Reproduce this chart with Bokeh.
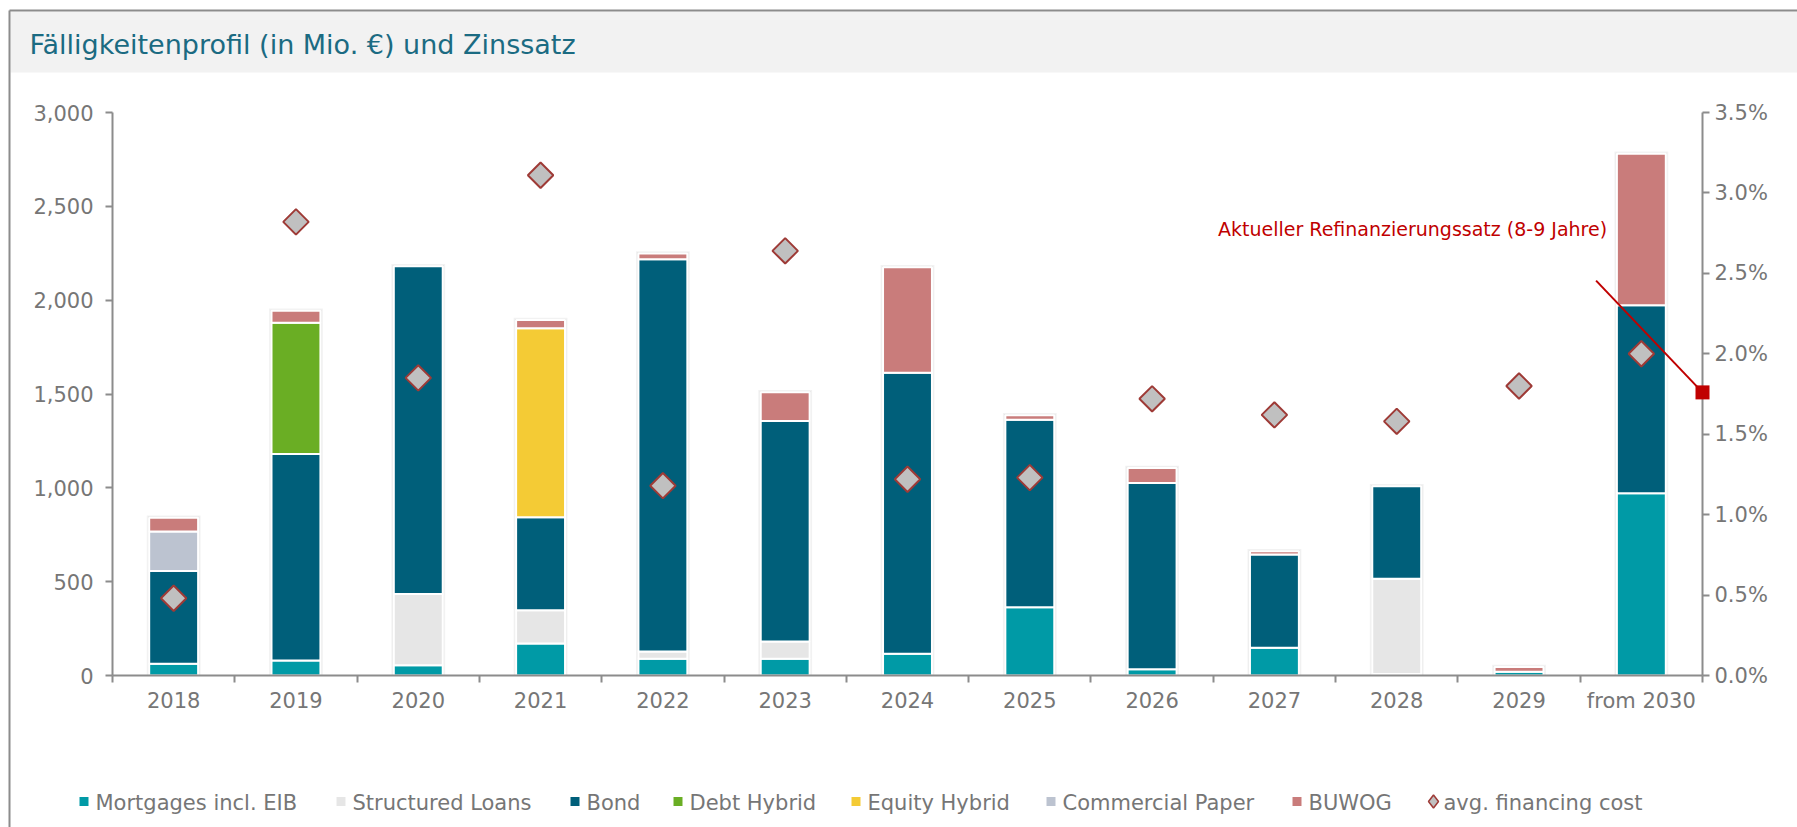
import numpy as np
from bokeh.plotting import figure
from bokeh.models import (Range1d, LinearAxis, FixedTicker, NumeralTickFormatter,
                          PrintfTickFormatter, ColumnDataSource)
from bokeh.core.properties import value
from bokeh.embed import file_html
from bokeh.resources import INLINE

# ---------------- data ----------------
categories = ["2018", "2019", "2020", "2021", "2022", "2023", "2024",
              "2025", "2026", "2027", "2028", "2029", "from 2030"]
mortgages        = [63, 80, 55, 171, 89, 89, 116, 364, 33, 148, 8, 20, 971]
structured_loans = [0, 0, 379, 177, 39, 92, 0, 0, 0, 0, 507, 0, 0]
bond             = [494, 1100, 1747, 495, 2090, 1175, 1497, 999, 993, 497, 493, 0, 1002]
debt_hybrid      = [0, 700, 0, 0, 0, 0, 0, 0, 0, 0, 0, 0, 0]
equity_hybrid    = [0, 0, 0, 1008, 0, 0, 0, 0, 0, 0, 0, 0, 0]
commercial_paper = [210, 0, 0, 0, 0, 0, 0, 0, 0, 0, 0, 0, 0]
buwog            = [74, 63, 0, 43, 31, 153, 562, 24, 80, 17, 0, 25, 807]
avg_cost_pct     = [0.48, 2.82, 1.85, 3.11, 1.18, 2.64, 1.22, 1.23, 1.72, 1.62, 1.58, 1.80, 2.00]

series_names = ["Mortgages incl. EIB", "Structured Loans", "Bond", "Debt Hybrid",
                "Equity Hybrid", "Commercial Paper", "BUWOG"]
series_values = [mortgages, structured_loans, bond, debt_hybrid,
                 equity_hybrid, commercial_paper, buwog]
series_colors = ["#009aa6", "#e6e6e6", "#005f7a", "#6aae24",
                 "#f4cb35", "#bcc3d0", "#c97c7b"]

cost_label = "avg. financing cost"
refi_rate_pct = 1.76
refi_text = "Aktueller Refinanzierungssatz (8-9 Jahre)"
title_text = "Fälligkeitenprofil (in Mio. €) und Zinssatz"

# ---------------- layout ----------------
W, H = 1797, 827
FL, FR, FT, FB = 112, 1702, 112, 675   # frame edges on canvas
FONT = "DejaVu Sans"
GREY = "#8c8c8c"
TXT = "#767676"

n = len(categories)
xs = np.arange(n)

p = figure(width=W, height=H, output_backend="svg", toolbar_location=None,
           x_range=Range1d(-0.5, n - 0.5), y_range=Range1d(0, 3000),
           x_axis_type=None, y_axis_type=None,
           min_border_left=FL, min_border_right=W - FR,
           min_border_top=FT, min_border_bottom=H - FB)
p.outline_line_color = None
p.background_fill_color = "white"
p.border_fill_color = "white"
p.extra_y_ranges = {"pct": Range1d(0, 3.5), "cy": Range1d(FB, FT)}
p.extra_x_ranges = {"cx": Range1d(FL, FR)}

# soft shadow behind stacks
totals = np.sum(np.array(series_values), axis=0)
p.vbar(x=xs, bottom=0, top=totals + 12, width=0.44, fill_color="#000000",
       fill_alpha=0.05, line_color=None)
p.vbar(x=xs, bottom=0, top=totals + 6, width=0.42, fill_color="#000000",
       fill_alpha=0.06, line_color=None)

bottom = np.zeros(n)
for name, vals, col in zip(series_names, series_values, series_colors):
    vals = np.array(vals, dtype=float)
    mask = vals > 0
    src = ColumnDataSource(dict(x=xs[mask], bottom=bottom[mask], top=(bottom + vals)[mask]))
    p.vbar(x="x", bottom="bottom", top="top", width=0.4, source=src,
           fill_color=col, line_color="white", line_width=2)
    bottom = bottom + vals

p.scatter(x=xs, y=avg_cost_pct, y_range_name="pct", marker="square",
          angle=np.pi / 4, size=18, fill_color="#c0c0c0",
          line_color="#9e3a36", line_width=2)

# annotation: current refinancing rate
p.line(x=[11.63, n - 0.5], y=[2.455, refi_rate_pct], y_range_name="pct",
       line_color="#c00000", line_width=2, level="overlay")
p.scatter(x=[n - 0.5], y=[refi_rate_pct], y_range_name="pct", marker="square",
          size=14, fill_color="#c00000", line_color=None, level="overlay")
p.text(x=[11.72], y=[2.773], text=[refi_text], y_range_name="pct",
       text_align="right", text_baseline="middle", text_color="#c00000",
       text_font=value(FONT), text_font_size="19px")

# axes
left = LinearAxis(ticker=FixedTicker(ticks=list(range(0, 3001, 500))),
                  formatter=NumeralTickFormatter(format="0,0"))
right = LinearAxis(y_range_name="pct",
                   ticker=FixedTicker(ticks=[i * 0.5 for i in range(8)]),
                   formatter=PrintfTickFormatter(format="%.1f%%"))
below = LinearAxis(ticker=FixedTicker(ticks=list(range(n)),
                                      minor_ticks=[i - 0.5 for i in range(n + 1)]),
                   major_label_overrides={i: c for i, c in enumerate(categories)})
for ax in (left, right, below):
    ax.axis_line_color = GREY
    ax.axis_line_width = 2
    ax.major_tick_line_color = GREY
    ax.major_tick_line_width = 2
    ax.major_tick_in = 0
    ax.major_tick_out = 7
    ax.minor_tick_line_color = None
    ax.major_label_text_font = FONT
    ax.major_label_text_font_size = "21px"
    ax.major_label_text_color = TXT
left.major_label_standoff = 12
right.major_label_standoff = 5
below.major_tick_line_color = None
below.major_tick_out = 0
below.minor_tick_line_color = GREY
below.minor_tick_line_width = 2
below.minor_tick_in = 0
below.minor_tick_out = 7
below.major_label_standoff = 6
p.add_layout(left, "left")
p.add_layout(right, "right")
p.add_layout(below, "below")

# title bar and outer border (canvas pixel coordinates)
p.quad(left=[10], right=[W], top=[11], bottom=[72], x_range_name="cx", y_range_name="cy",
       fill_color="#f2f2f2", line_color=None, level="overlay")
p.text(x=[29], y=[44], text=[title_text], x_range_name="cx", y_range_name="cy",
       text_align="left", text_baseline="middle", text_color="#1b6b82",
       text_font=value(FONT), text_font_size="27px", level="overlay")
p.multi_line(xs=[[9, 9], [9, W]], ys=[[H, 10], [10, 10]], x_range_name="cx", y_range_name="cy",
             line_color=GREY, line_width=2, level="overlay")

# legend (drawn in canvas pixel coordinates below the plot area)
legend_text_x = [95, 352, 586, 689, 867, 1062, 1308, 1443]
legend_y = 802
sq_left = [t - 16 for t in legend_text_x[:7]]
p.quad(left=sq_left, right=[l + 9 for l in sq_left],
       top=[legend_y - 5.5] * 7, bottom=[legend_y + 3.5] * 7,
       x_range_name="cx", y_range_name="cy",
       fill_color=series_colors, line_color=None, level="overlay")
dx = legend_text_x[7] - 10
p.patch(x=[dx - 5, dx, dx + 5, dx], y=[legend_y - 1, legend_y - 7.5, legend_y - 1, legend_y + 5.5],
        x_range_name="cx", y_range_name="cy", fill_color="#c0c0c0",
        line_color="#9e3a36", line_width=1.5, level="overlay")
p.text(x=legend_text_x, y=[legend_y] * 8, text=series_names + [cost_label],
       x_range_name="cx", y_range_name="cy", text_align="left", text_baseline="middle",
       text_color=TXT, text_font=value(FONT), text_font_size="21px", level="overlay")

open("out.html", "w").write(file_html(p, INLINE))
